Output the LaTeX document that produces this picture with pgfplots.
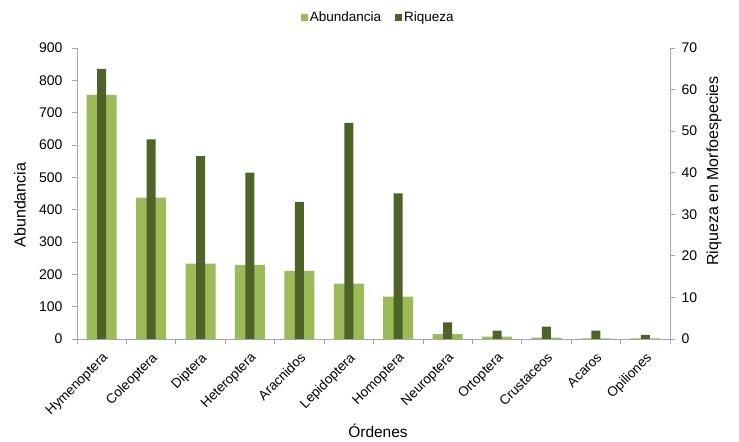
\documentclass[border=0pt]{standalone}
\usepackage{fontspec}
\setmainfont{Liberation Sans}
\usepackage{pgfplots}
\usepackage{pgfplotstable}
\pgfplotsset{compat=1.18}

\definecolor{abund}{HTML}{9BBB59}
\definecolor{riq}{HTML}{4F6228}
\definecolor{ejes}{HTML}{A6A6A6}

% Abundancia (eje izq.) y Riqueza en morfoespecies (eje der.) por orden
\pgfplotstableread{
x abund riq
0  755 65
1  437 48
2  233 44
3  229 40
4  211 33
5  171 52
6  131 35
7  15  4
8  7   2
9  4   3
10 2   2
11 2   1
}\datos

\pgfplotsset{
  base/.style={
    at={(77pt,99pt)}, anchor=south west,
    scale only axis, width=593pt, height=291pt,
    xmin=-0.5, xmax=11.5,
    axis line style={ejes, line width=0.8pt},
    tick style={ejes, line width=0.8pt},
    tick align=outside,
    major tick length=5pt, minor tick length=5pt,
    /pgf/number format/assume math mode=true,
    ticklabel style={font=\fontsize{14}{16}\selectfont, text=black},
    label style={font=\fontsize{16}{19}\selectfont},
  },
}

\begin{document}
\begin{tikzpicture}
\path (0,0) rectangle (739pt,438pt);

\begin{axis}[
  base,
  axis y line*=left, axis x line*=bottom,
  ymin=0, ymax=900, ytick={0,100,...,900},
  yticklabel style={xshift=-6pt},
  xtick={0,...,11},
  xticklabels={Hymenoptera,Coleoptera,Diptera,Heteroptera,Aracnidos,Lepidoptera,
    Homoptera,Neuroptera,Ortoptera,Crustaceos,Acaros,Opiliones},
  minor xtick={-0.5,0.5,...,11.5},
  major x tick style={draw=none},
  xticklabel style={rotate=45, anchor=north east, xshift=-2pt, yshift=-2pt,
    font=\fontsize{13.5}{16}\selectfont},
  ylabel={Abundancia},
  ylabel style={at={(axis description cs:-0.0961,0.4605)}, anchor=center},
  xlabel={Órdenes},
  xlabel style={at={(axis description cs:0.5076,-0.316)}, anchor=center,
    font=\fontsize{15.5}{18}\selectfont},
  legend style={draw=none, fill=none, legend columns=2,
    at={(axis description cs:0.508,1.1065)}, anchor=center,
    font=\fontsize{13.5}{16}\selectfont,
    /tikz/every even column/.append style={column sep=12pt}},
  legend image code/.code={\fill[#1] (0pt,-3.5pt) rectangle (7pt,3.5pt);},
]
\addplot[ybar, bar width=30pt, bar shift=0pt, fill=abund, draw=none]
  table[x=x, y=abund] {\datos};
\addlegendentry{Abundancia}
\addlegendimage{fill=riq, draw=none}
\addlegendentry{Riqueza}
\end{axis}

\begin{axis}[
  base,
  axis y line*=right, axis x line=none,
  ymin=0, ymax=70, ytick={0,10,...,70},
  yticklabel style={xshift=3pt},
  ylabel={Riqueza en Morfoespecies},
  ylabel style={at={(axis description cs:1.0742,0.5773)}, anchor=center, rotate=0},
]
\addplot[ybar, bar width=9pt, bar shift=0pt, fill=riq, draw=none]
  table[x=x, y=riq] {\datos};
\end{axis}
\end{tikzpicture}
\end{document}
